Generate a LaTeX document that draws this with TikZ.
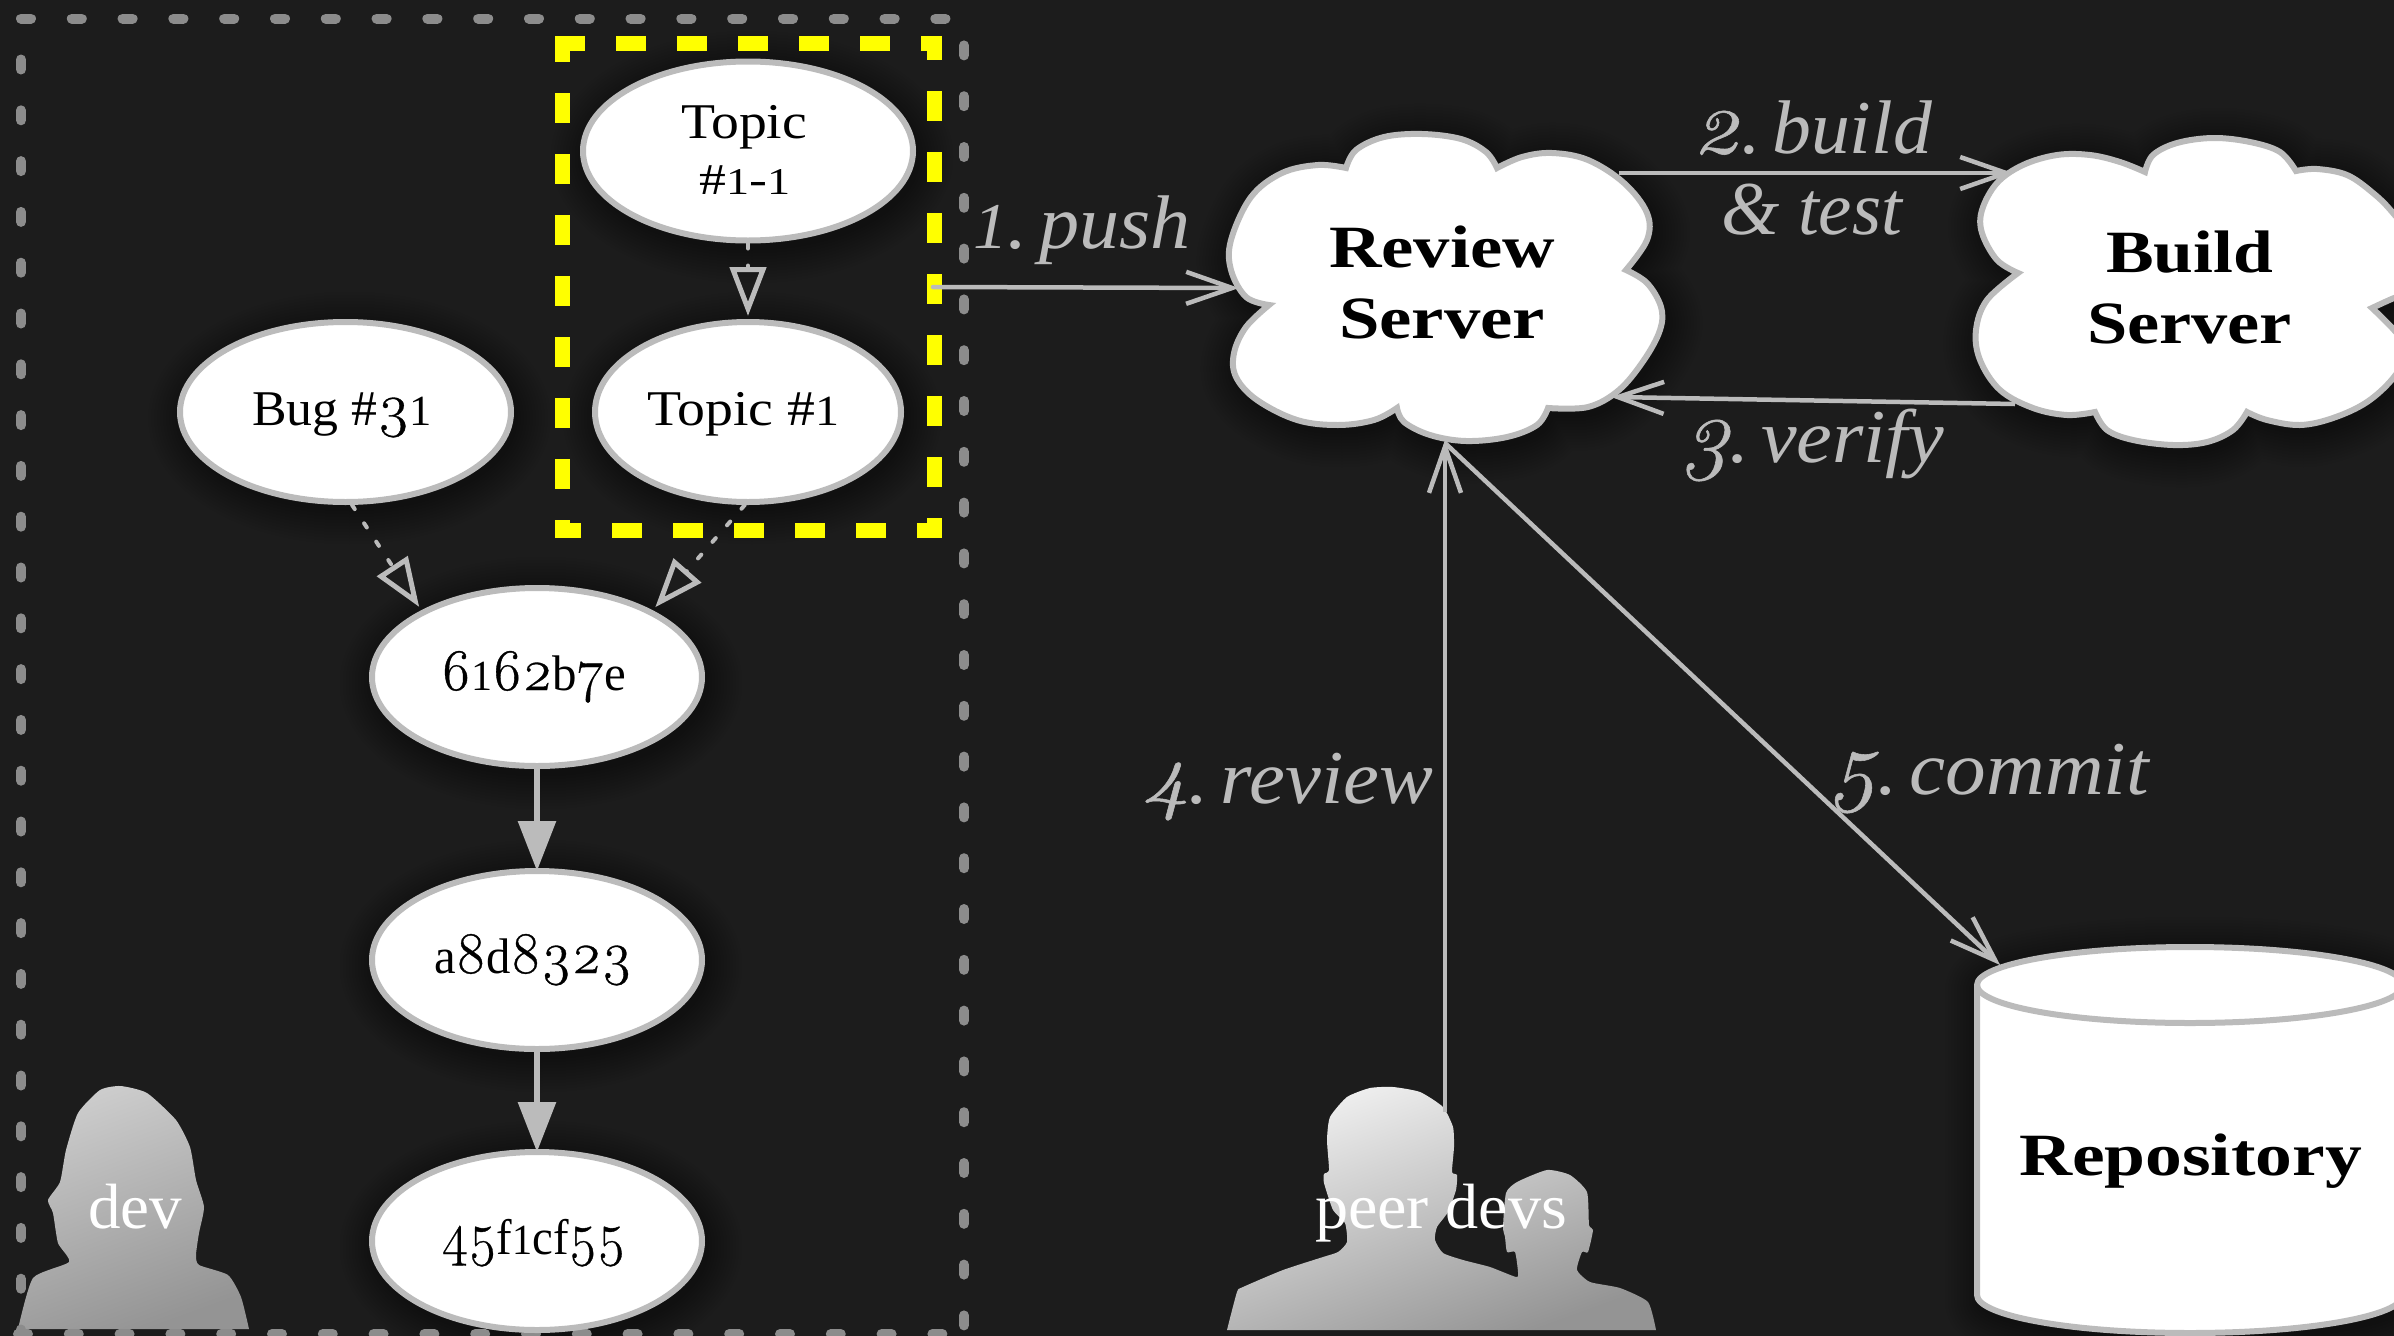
\documentclass[tikz,border=0pt]{standalone}
\usepackage{graphicx}
\usepackage{fontspec}
\setmainfont{Liberation Serif}
\newfontfamily\lmnum{Latin Modern Roman}[Numbers=OldStyle,FakeBold=0.6,Scale=1.18]
\usetikzlibrary{arrows.meta,shapes.geometric}
\definecolor{bgdark}{HTML}{1C1C1C}
\definecolor{edgegray}{HTML}{BBBBBB}
\definecolor{framegray}{HTML}{8C8C8C}
\definecolor{hilite}{HTML}{FFFF00}
\newcommand{\fw}[2]{\resizebox{#1pt}{\height}{#2}}
\newcommand{\od}[1]{{\lmnum #1}}
\newcommand{\odi}[1]{{\lmnum\itshape #1}}
\newcommand{\oo}{\scalebox{.86}{1}}
\tikzset{
  versionbase/.style={ellipse,draw=edgegray,fill=white,line width=6pt,inner sep=0pt,text=black,
    font=\fontsize{50}{56}\selectfont,anchor=center},
  version/.style={versionbase,text height=26pt,text depth=0pt},
  boldtext/.style={inner sep=0pt,text=black,font=\fontsize{60}{71}\selectfont\bfseries,align=center},
  steplabel/.style={inner sep=0pt,anchor=base,text=edgegray,font=\fontsize{76}{76}\selectfont\itshape},
  personlabel/.style={inner sep=0pt,anchor=base,text=white,font=\fontsize{64}{64}\selectfont},
  framedash/.style={line width=10pt,line cap=round,draw=framegray,dash pattern=on 10pt off 40.8pt},
  hilitedash/.style={line width=15pt,draw=hilite,dash pattern=on 30pt off 31pt},
  shape line/.style={draw=edgegray,fill=white,line width=6pt,line join=miter},
  solidedge/.style={draw=edgegray,line width=6pt,-{Triangle[length=50pt,width=37pt]}},
  dotedge/.style={draw=edgegray,line width=4pt,line cap=round,dash pattern=on 5pt off 17pt,
    -{Triangle[open,length=49pt,width=36pt,line width=5pt]}},
  stepedge/.style={draw=edgegray,line width=4.5pt,shorten >=-3pt,-{Straight Barb[length=46pt,width=32pt]}},
  devperson/.style={top color=white!80!black,bottom color=black!42,shading angle=20},
  peerperson/.style={top color=white!94!black,bottom color=black!42,shading angle=20}
}
\newcommand{\softell}[4]{%
  \foreach \k in {36,33,...,3}{%
    \fill[black,opacity=.035] (#1+4,#2+6) circle [x radius=#3+\k, y radius=#4+\k];}}
\newcommand{\softpath}[1]{%
  \foreach \k in {72,66,...,6}{%
    \draw[black,opacity=.035,line width=\k pt,line join=round,shift={(4,6)}] #1;}}
\newcommand{\reviewpath}{plot[smooth,tension=.6] coordinates {(1346,168)(1356,150)(1384,137)(1422,134)(1461,139)(1486,152)(1497,168)}
 -- plot[smooth,tension=.6] coordinates {(1497,168)(1522,157)(1552,153)(1588,160)(1624,183)(1647,213)(1647,240)(1626,270)}
 -- plot[smooth,tension=.6] coordinates {(1626,270)(1647,283)(1661,307)(1660,330)(1644,360)(1619,390)(1588,407)(1548,408)}
 -- plot[smooth,tension=.6] coordinates {(1548,408)(1537,425)(1507,437)(1466,441)(1430,435)(1404,422)(1397,408)}
 -- plot[smooth,tension=.6] coordinates {(1397,408)(1374,420)(1338,425)(1297,420)(1257,400)(1236,377)(1234,353)(1246,327)(1269,305)}
 -- plot[smooth,tension=.6] coordinates {(1269,305)(1246,297)(1231,270)(1231,240)(1251,197)(1282,173)(1318,165)(1346,168)} -- cycle}
\newcommand{\buildpath}{plot[smooth,tension=.6] coordinates {(2018,273)(1997,260)(1982,233)(1982,210)(1997,183)(2023,165)(2057,155)(2090,155)(2120,162)(2145,172)}
 -- plot[smooth,tension=.6] coordinates {(2145,172)(2153,155)(2177,143)(2213,138)(2250,142)(2280,152)(2296,171)}
 -- plot[smooth,tension=.6] coordinates {(2296,171)(2317,169)(2347,175)(2373,193)(2393,213)(2425,255)(2420,288)(2394,298)(2372,308)}
 -- plot[smooth,tension=.6] coordinates {(2372,308)(2394,330)(2408,350)(2394,377)(2367,402)(2333,418)(2300,425)(2267,420)(2247,412)}
 -- plot[smooth,tension=.6] coordinates {(2247,412)(2233,430)(2207,442)(2173,445)(2133,440)(2107,430)(2095,412)}
 -- plot[smooth,tension=.6] coordinates {(2095,412)(2067,415)(2033,408)(2000,390)(1980,360)(1976,330)(1987,300)(2018,273)} -- cycle}
\newcommand{\cylpath}{(1977,985) arc[start angle=180,end angle=360,x radius=213,y radius=38] -- (2403,1295) arc[start angle=0,end angle=180,x radius=213,y radius=38] -- cycle}
\begin{document}
\begin{tikzpicture}[x=1pt,y=-1pt]
\path[use as bounding box,clip] (0,0) rectangle (2394,1336);
\fill[bgdark] (0,0) rectangle (2394,1336);
% shadows
\softell{748}{151}{165}{90}
\softell{748}{412}{153}{90}
\softell{345.5}{412}{165}{90}
\softell{537}{677}{165}{90}
\softell{537}{960}{165}{90}
\softell{537}{1241}{165}{90}
\softpath{\reviewpath}
\softpath{\buildpath}
\softpath{\cylpath}
% silhouettes
\shade[devperson] plot[smooth,tension=.35] coordinates {(18,1329)(33,1278)(69,1262)(58,1243)(53,1213)(48,1200)(60,1182)(66,1150)(78,1113)(100,1090)(120.5,1086)(147,1093)(176,1120)(190,1147)(196,1180)(204,1207)(199,1233)(196,1255)(199,1265)(228,1275)(241,1297)(249,1329)} -- cycle;
\shade[peerperson] plot[smooth,tension=.35] coordinates {(1227,1330)(1237,1292)(1243,1287)(1283,1270)(1323,1257)(1338,1252)(1347,1242)(1345,1223)(1333,1210)(1324,1183)(1324,1174)(1329,1170)(1327,1140)(1330,1117)(1347,1097)(1370,1088)(1393,1087)(1420,1092)(1443,1107)(1453,1127)(1454,1147)(1452,1172)(1457,1175)(1456,1190)(1448,1212)(1437,1227)(1435,1240)(1443,1253)(1463,1260)(1490,1267)(1516,1277)(1518,1272)(1515,1252)(1507,1252)(1505,1237)(1503,1227)(1506,1193)(1517,1182)(1547,1170)(1570,1175)(1587,1192)(1589,1225)(1593,1230)(1588,1252)(1582,1252)(1577,1270)(1590,1282)(1620,1288)(1648,1302)(1656,1330)} -- cycle;
% dev group frame
\draw[framedash] (21,18.6) -- (964,18.6);
\draw[framedash,dash phase=24pt] (964,18.6) -- (964,1334);
\draw[framedash] (18,1334) -- (964,1334);
\draw[framedash] (21,59.5) -- (21,1334);
% highlighted frame
\draw[hilitedash] (555,43) -- (942,43);
\draw[hilitedash,dash phase=6pt] (934.5,36) -- (934.5,538);
\draw[hilitedash,dash phase=4pt] (555,530.5) -- (942,530.5);
\draw[hilitedash,dash phase=4pt] (562.5,36) -- (562.5,538);
% nodes
\node[versionbase,minimum width=330pt,minimum height=179pt,align=center] (t11) at (748,151) {\hspace*{-8pt}\raisebox{3pt}{\fw{126}{Topic}}\\\hspace*{-6pt}\raisebox{3pt}{\fw{91}{{\fontsize{44}{44}\selectfont\#\oo-\oo}}}};
\node[version,minimum width=306pt,minimum height=180pt] (t1) at (748,412) {\hspace*{-10pt}\fw{192}{Topic \#\oo}};
\node[version,minimum width=331pt,minimum height=180pt] (bug) at (345.5,412) {\hspace*{-7pt}\fw{180}{Bug \#\od{3}\oo}};
\node[version,minimum width=330pt,minimum height=178pt] (c1) at (537,677) {\hspace*{-7pt}\fw{185}{\od{6}\oo\od{62}b\od{7}e}};
\node[version,minimum width=330pt,minimum height=178pt] (c2) at (537,960) {\hspace*{-8pt}\fw{198}{a\od{8}d\od{8323}}};
\node[version,minimum width=330pt,minimum height=178pt] (c3) at (537,1241) {\hspace*{-7pt}\fw{184}{\od{45}f\oo cf\od{55}}};
% clouds and cylinder
\path[shape line] \reviewpath;
\path[shape line] \buildpath;
\path[shape line] \cylpath;
\draw[draw=edgegray,line width=6pt] (1977,985) arc[start angle=180,end angle=0,x radius=213,y radius=38];
\node[boldtext] (review) at (1442,282.5) {\fw{226}{Review}\\\fw{206}{Server}};
\node[boldtext] (build) at (2189.5,287) {\fw{167}{Build}\\\fw{205}{Server}};
\node[boldtext,anchor=base] (repo) at (2190.5,1175) {\fw{343}{Repository}};
% version edges
\draw[dotedge] (t11.south) -- ([yshift=3pt]t1.north);
\draw[dotedge,shorten >=4pt] (bug.-86) -- (c1.150);
\draw[dotedge,shorten >=4pt] (t1.-92) -- (c1.30);
\draw[solidedge] (c1.south) -- ([yshift=-3pt]c2.north);
\draw[solidedge] (c2.south) -- ([yshift=-3pt]c3.north);
% workflow edges
\coordinate (hiliteE) at (933,287);
\coordinate (reviewW) at (1236,288);
\coordinate (reviewNE) at (1619,173);
\coordinate (buildW) at (2010,173);
\coordinate (buildSW) at (2015,404);
\coordinate (reviewSE) at (1614,397);
\coordinate (peerTop) at (1445,1112);
\coordinate (reviewS) at (1445,443);
\coordinate (repoNW) at (1998,963);
\draw[stepedge,line cap=round] (hiliteE) -- (reviewW);
\draw[stepedge] (reviewNE) -- (buildW);
\draw[stepedge] (buildSW) -- (reviewSE);
\draw[stepedge] (peerTop) -- (reviewS);
\draw[stepedge] (reviewS) -- (repoNW);
% labels
\node[steplabel] (l1) at (1082,248) {\fw{218}{\scalebox{.86}{1}.\hspace{.15em}push}};
\node[steplabel] (l2) at (1812.5,153) {\fw{239}{\odi{2}.\hspace{.15em}build}};
\node[steplabel] (l2b) at (1811.5,234) {\fw{181}{\& test}};
\node[steplabel] (l3) at (1813,462) {\fw{262}{\odi{3}.\hspace{.15em}verify}};
\node[steplabel] (l4) at (1287.5,803) {\fw{291}{\odi{4}.\hspace{.15em}review}};
\node[steplabel] (l5) at (1989.5,794) {\fw{319}{\odi{5}.\hspace{.15em}commit}};
\node[personlabel] (dev) at (135,1228) {\fw{94}{dev}};
\node[personlabel] (peers) at (1441,1228) {\fw{252}{peer devs}};
\end{tikzpicture}
\end{document}
